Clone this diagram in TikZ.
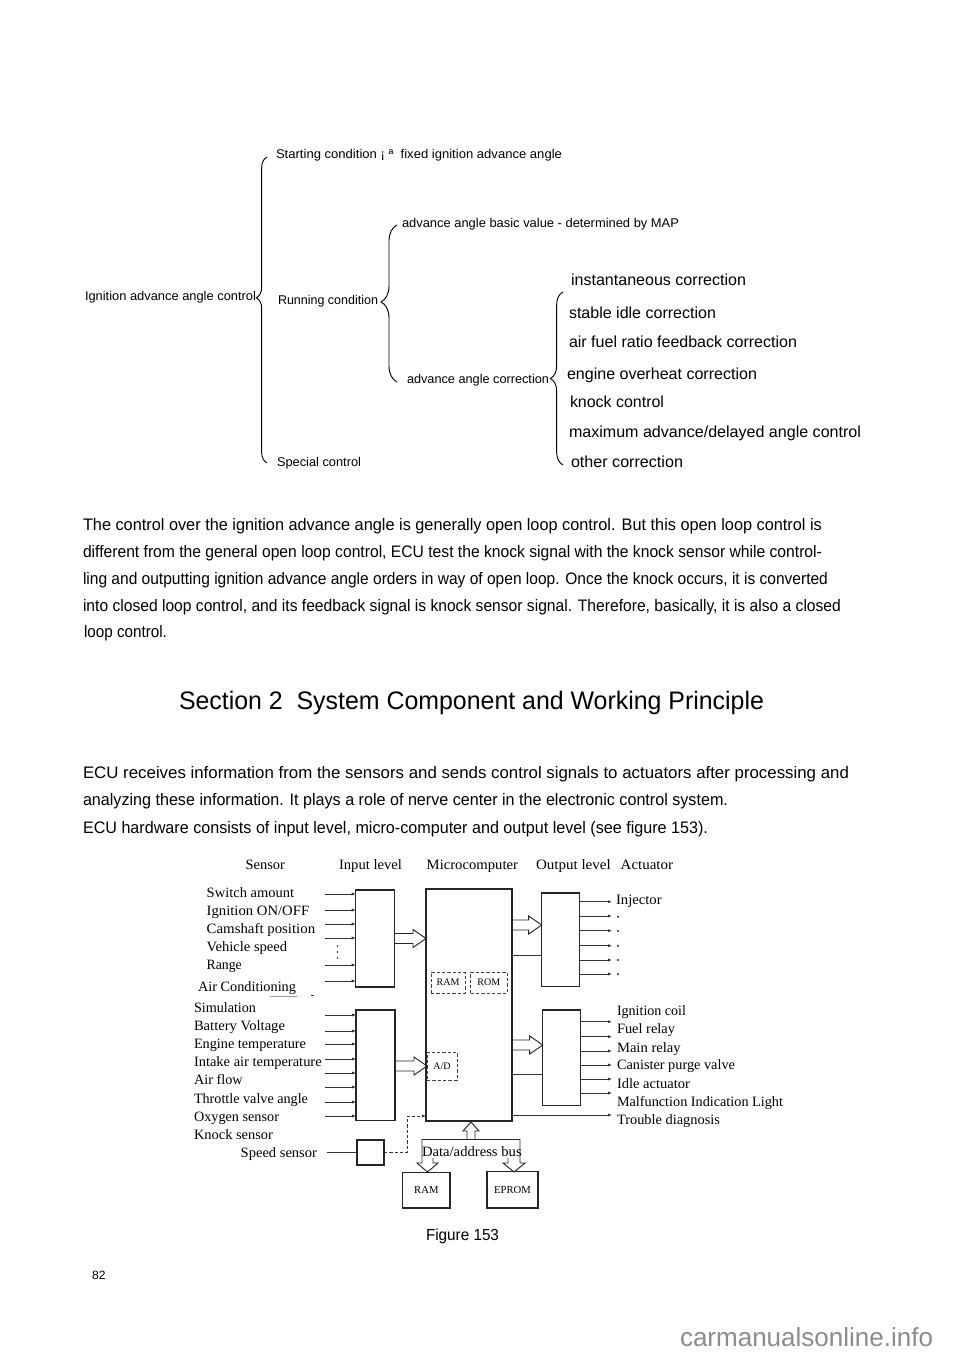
\documentclass[tikz,border=0pt]{standalone}
\usepackage{fontspec}
\setmainfont{Liberation Sans}
\newfontfamily\seriffont{Liberation Serif}
\usepackage{graphicx}
\usetikzlibrary{decorations.pathreplacing,fit,arrows.meta,calc}
\newsavebox\fwbox
\newlength\fwlen
\newcommand\fw[2]{\sbox\fwbox{#2}\setlength\fwlen{\wd\fwbox}\pgfmathsetmacro\fwsc{#1*0.75/\fwlen}\scalebox{\fwsc}[1]{\usebox\fwbox}}
\newcommand\hR[3]{\draw[hol] (#1,#3-5) -- (#2-13,#3-5) -- (#2-13,#3-9) -- (#2,#3) -- (#2-13,#3+9) -- (#2-13,#3+5) -- (#1,#3+5);}
\tikzset{
 lab/.style={anchor=base west, inner sep=0pt, outer sep=0pt},
 tsm/.style={lab, font=\fontsize{9.5}{11}\selectfont},
 tbig/.style={lab, font=\fontsize{12}{14}\selectfont},
 ptxt/.style={lab, font=\fontsize{12.5}{15}\selectfont},
 dlab/.style={lab, font=\seriffont\fontsize{10.7}{12}\selectfont},
 slab/.style={font=\seriffont\fontsize{7.5}{9}\selectfont, inner sep=0pt},
 box/.style={draw=black!85, line width=1pt, inner sep=0pt, outer sep=0pt},
 dbox/.style={draw=black!75, line width=0.7pt, inner sep=0pt, dash pattern=on 2.5pt off 1.5pt},
 sig/.style={draw=black!80, line width=0.6pt, -{Latex[length=3pt,width=2.4pt]}},
 plain/.style={draw=black!80, line width=0.7pt},
 hol/.style={draw=black!85, line width=0.7pt, line join=miter},
 brc/.style={draw=black, line width=0.7pt, decorate},
}
\begin{document}
\begin{tikzpicture}[x=0.75pt,y=-0.75pt]
\useasboundingbox (0,0) rectangle (960,1358);
\fill[white] (0,0) rectangle (960,1358);

% ---------- tree ----------
\node[tsm] (root) at (85,301) {\fw{171}{Ignition advance angle control}};
\node[tsm] (start) at (276,159) {\fw{286}{Starting condition ¡ ª\ \ fixed ignition advance angle}};
\node[tsm] (run) at (278,304.5) {\fw{100}{Running condition}};
\node[tsm] (special) at (277,466) {\fw{84}{Special control}};
\node[tsm] (basic) at (402,228) {\fw{277}{advance angle basic value - determined by MAP}};
\node[tsm] (corr) at (407,383) {\fw{142}{advance angle correction}};
\node[tbig] (c1) at (571,286) {\fw{175}{instantaneous correction}};
\node[tbig] (c2) at (569,319) {\fw{147}{stable idle correction}};
\node[tbig] (c3) at (569,348) {\fw{228}{air fuel ratio feedback correction}};
\node[tbig] (c4) at (567,379.5) {\fw{190}{engine overheat correction}};
\node[tbig] (c5) at (570,407) {\fw{94}{knock control}};
\node[tbig] (c6) at (569,437) {\fw{292}{maximum advance/delayed angle control}};
\node[tbig] (c7) at (571,467) {\fw{112}{other correction}};

\draw[brc, decoration={brace, amplitude=8pt, aspect=0.54}] (267,463) -- (267,157);
\draw[brc, decoration={brace, amplitude=12pt, aspect=0.51}] (397,382) -- (397,225);
\draw[brc, decoration={brace, amplitude=9.5pt, aspect=0.5}] (563,465) -- (563,292);

% ---------- paragraphs ----------
\node[ptxt] (p1a) at (83,530) {\fw{739}{The control over the ignition advance angle is generally open loop control. But this open loop control is}};
\node[ptxt] (p1b) at (83,557) {\fw{739}{different from the general open loop control, ECU test the knock signal with the knock sensor while control-}};
\node[ptxt] (p1c) at (83,584) {\fw{745}{ling and outputting ignition advance angle orders in way of open loop. Once the knock occurs, it is converted}};
\node[ptxt] (p1d) at (83,611) {\fw{758}{into closed loop control, and its feedback signal is knock sensor signal. Therefore, basically, it is also a closed}};
\node[ptxt] (p1e) at (84,637) {\fw{83}{loop control.}};

\node[lab, font=\fontsize{19}{22}\selectfont] (title) at (179,709) {\fw{585}{Section 2\ \ System Component and Working Principle}};

\node[ptxt] (p2a) at (83,778) {\fw{766}{ECU receives information from the sensors and sends control signals to actuators after processing and}};
\node[ptxt] (p2b) at (83,805) {\fw{645}{analyzing these information. It plays a role of nerve center in the electronic control system.}};
\node[ptxt] (p2c) at (83,833) {\fw{625}{ECU hardware consists of input level, micro-computer and output level (see figure 153).}};

% ---------- figure 153 ----------
\hR{394.3}{426}{938.5}
\hR{395}{427}{1066}
\hR{512}{541.7}{925}
\hR{512}{542.7}{1045}

\node[box, fit={(355.7,890) (394.3,987)}] (in1) {};
\node[box, fit={(356,1010) (395,1120.7)}] (in2) {};
\node[box, fit={(426,889) (512,1121)}] (mc) {};
\node[box, fit={(541.7,893) (579.3,986.7)}] (out1) {};
\node[box, fit={(542.7,1010) (580.7,1105.7)}] (out2) {};
\node[box, fit={(357,1140) (384,1165)}] (sp) {};
\node[box, fit={(402.7,1172.7) (450,1208)}] (ram2) {};
\node[box, fit={(487,1171.7) (538,1208)}] (eprom) {};
\node[dbox, fit={(431,972) (465,993)}] (ram1) {};
\node[dbox, fit={(470.7,972) (507,993)}] (rom1) {};
\node[dbox, fit={(427,1052) (457,1080)}] (ad) {};
\node[slab] at (ram1.center) {RAM};
\node[slab] at (rom1.center) {ROM};
\node[slab] at (ad.center) {A/D};
\node[slab, font=\seriffont\fontsize{8}{9}\selectfont] at (ram2.center) {RAM};
\node[slab, font=\seriffont\fontsize{8}{9}\selectfont] at (eprom.center) {EPROM};

% headers
\node[dlab] (hs) at (245.7,869) {\fw{39.3}{Sensor}};
\node[dlab] (hi) at (339,869) {\fw{63}{Input level}};
\node[dlab] (hm) at (426.7,869) {\fw{91.3}{Microcomputer}};
\node[dlab] (ho) at (536,869.5) {\fw{74.7}{Output level}};
\node[dlab] (ha) at (620.7,869) {\fw{52.3}{Actuator}};

% sensors
\node[dlab] (s1) at (206.7,897) {\fw{87.5}{Switch amount}};
\node[dlab] (s2) at (206.7,915.5) {\fw{102.5}{Ignition ON/OFF}};
\node[dlab] (s3) at (206.7,933.5) {\fw{108.5}{Camshaft position}};
\node[dlab] (s4) at (206.7,951) {\fw{80.5}{Vehicle speed}};
\node[dlab] (s5) at (206.7,969.5) {\fw{35}{Range}};
\node[dlab] (s6) at (198,991) {\fw{98}{Air Conditioning}};
\node[dlab] (s7) at (194,1012.5) {\fw{62}{Simulation}};
\node[dlab] (s8) at (194,1030.5) {\fw{91}{Battery Voltage}};
\node[dlab] (s9) at (194,1048.5) {\fw{112}{Engine temperature}};
\node[dlab] (s10) at (194,1066) {\fw{127.7}{Intake air temperature}};
\node[dlab] (s11) at (194,1084.5) {\fw{48.7}{Air flow}};
\node[dlab] (s12) at (194,1103) {\fw{114}{Throttle valve angle}};
\node[dlab] (s13) at (194,1121) {\fw{85}{Oxygen sensor}};
\begin{scope}
\clip (150,1120) rectangle (330,1138.5);
\node[dlab] (s14) at (194,1139.5) {\fw{79}{Knock sensor}};
\end{scope}
\node[dlab] (s15) at (240.7,1157.5) {\fw{76.3}{Speed sensor}};
\draw[black!40, line width=0.4pt] (270,996.7) -- (296.7,996.7);
\draw[black!80, line width=0.6pt] (311,995) -- (314,995);

% actuators
\node[dlab] (a1) at (616,904.5) {\fw{45.7}{Injector}};
\node[dlab] (a2) at (617,1015) {\fw{69}{Ignition coil}};
\node[dlab] (a3) at (617,1033.5) {\fw{58}{Fuel relay}};
\node[dlab] (a4) at (617,1052) {\fw{63.7}{Main relay}};
\node[dlab] (a5) at (617,1069.5) {\fw{118}{Canister purge valve}};
\node[dlab] (a6) at (617,1088) {\fw{73}{Idle actuator}};
\node[dlab] (a7) at (617,1106) {\fw{166}{Malfunction Indication Light}};
\node[dlab] (a8) at (617,1124.5) {\fw{103}{Trouble diagnosis}};
\foreach \yy in {916.7,931,946,960,974} \fill[black!85] (618,\yy) circle[radius=0.8pt];

% input signal lines
\foreach \yy in {894,910,924,938,965,981} \draw[sig] (325,\yy) -- (in1.west |- 0,\yy);
\foreach \yy in {946,952,958} \fill[black!85] (337.5,\yy) circle[radius=0.7pt];
\foreach \yy in {1015,1031,1044,1059,1073,1087,1102,1116} \draw[sig] (325,\yy) -- (in2.west |- 0,\yy);

% output signal lines
\foreach \yy in {901.7,916,930.7,945.7,960,974} \draw[sig] (out1.east |- 0,\yy) -- (612,\yy);
\foreach \yy in {1021.7,1036.7,1051,1065,1079,1093} \draw[sig] (out2.east |- 0,\yy) -- (612,\yy);
\draw[plain] (mc.east |- 0,955) -- (out1.west |- 0,955);
\draw[plain] (mc.east |- 0,1074) -- (out2.west |- 0,1074);
\draw[sig] (mc.east |- 0,1115) -- (612,1115);

% speed sensor
\draw[plain] (327,1152.5) -- (sp.west);
\draw[sig, dash pattern=on 2.5pt off 1.5pt] (sp.east) -| (407,1116) -- (mc.west |- 0,1116);

% data/address bus
\draw[hol] (467,1139) -- (467,1131) -- (463,1131) -- (471,1122) -- (479,1131) -- (475,1131) -- (475,1139);
\draw[hol] (422,1139) -- (520,1139);
\draw[hol] (433,1158) -- (433,1163) -- (438,1163) -- (427.5,1172) -- (417,1163) -- (422,1163) -- (422,1139);
\draw[hol] (508,1158) -- (508,1163) -- (503,1163) -- (514,1172) -- (525,1163) -- (520,1163) -- (520,1139);
\node[dlab] (bus) at (422,1156) {\fw{99.7}{Data/address bus}};

% captions
\node[lab, font=\fontsize{12}{14}\selectfont] (fig) at (426,1240) {\fw{73}{Figure 153}};
\node[lab, font=\fontsize{9}{11}\selectfont] (pg) at (92,1279) {\fw{13.5}{82}};
\node[lab, font=\fontsize{19.6}{22}\selectfont, text=black!45] (wm) at (680,1346) {\fw{253}{carmanualsonline.info}};
\end{tikzpicture}
\end{document}
